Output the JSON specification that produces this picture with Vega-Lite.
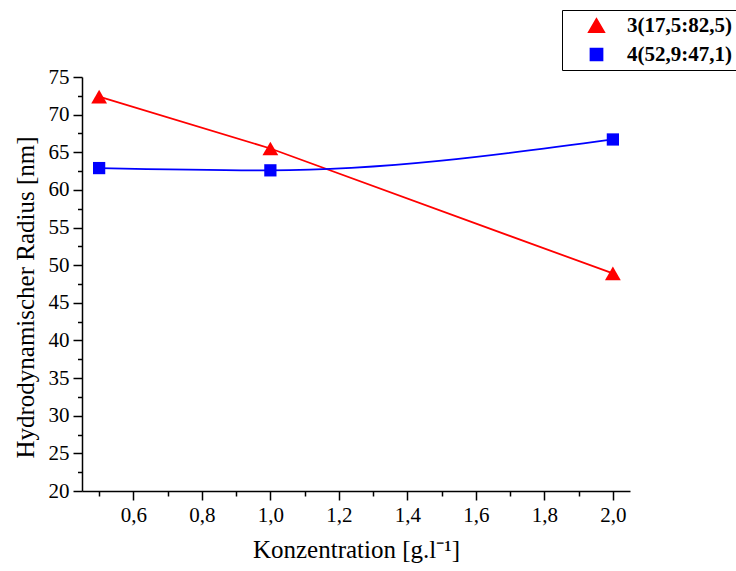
{
  "$schema": "https://vega.github.io/schema/vega-lite/v6.json",
  "width": 548,
  "height": 414,
  "autosize": {"type": "none"},
  "padding": {"left": 82, "top": 77, "right": 106, "bottom": 80},
  "background": "white",
  "config": {
    "view": {"stroke": null},
    "font": "Liberation Serif",
    "axis": {
      "labelFont": "Liberation Serif",
      "titleFont": "Liberation Serif",
      "labelFontSize": 21,
      "titleFontSize": 25,
      "labelColor": "#000000",
      "titleColor": "#000000",
      "domainColor": "#000000",
      "tickColor": "#000000",
      "domainWidth": 1.5,
      "tickWidth": 1.5,
      "grid": false,
      "titleFontWeight": "normal",
      "labelOverlap": false
    }
  },
  "data": {
    "values": [
      {"c": 0.5, "r": 72.4, "series": "3(17,5:82,5)"},
      {"c": 1.0, "r": 65.5, "series": "3(17,5:82,5)"},
      {"c": 2.0, "r": 48.9, "series": "3(17,5:82,5)"},
      {"c": 0.5, "r": 62.9, "series": "4(52,9:47,1)"},
      {"c": 1.0, "r": 62.6, "series": "4(52,9:47,1)"},
      {"c": 2.0, "r": 66.7, "series": "4(52,9:47,1)"}
    ]
  },
  "encoding": {
    "x": {
      "field": "c",
      "type": "quantitative",
      "scale": {"domain": [0.45, 2.05], "nice": false, "zero": false},
      "axis": {
        "title": "Konzentration [g.l⁻¹]",
        "values": [0.5, 0.6, 0.7, 0.8, 0.9, 1.0, 1.1, 1.2, 1.3, 1.4, 1.5, 1.6, 1.7, 1.8, 1.9, 2.0],
        "labelExpr": "round(datum.value*10) % 2 == 0 ? replace(format(datum.value, '.1f'), '.', ',') : ''",
        "tickSize": {"condition": {"test": "round(datum.value*10) % 2 == 0", "value": 9}, "value": 5},
        "labelPadding": 4,
        "titlePadding": 12
      }
    },
    "y": {
      "field": "r",
      "type": "quantitative",
      "scale": {"domain": [20, 75], "nice": false, "zero": false},
      "axis": {
        "title": "Hydrodynamischer Radius [nm]",
        "values": [20, 22.5, 25, 27.5, 30, 32.5, 35, 37.5, 40, 42.5, 45, 47.5, 50, 52.5, 55, 57.5, 60, 62.5, 65, 67.5, 70, 72.5, 75],
        "labelExpr": "datum.value % 5 == 0 ? datum.label : ''",
        "tickSize": {"condition": {"test": "datum.value % 5 == 0", "value": 9}, "value": 4.5},
        "labelPadding": 4,
        "titlePadding": 10,
        "titleY": 220
      }
    },
    "color": {
      "field": "series",
      "type": "nominal",
      "scale": {"domain": ["3(17,5:82,5)", "4(52,9:47,1)"], "range": ["#ff0000", "#0000ff"]},
      "legend": {
        "title": null,
        "orient": "none",
        "legendX": 480,
        "legendY": -67,
        "strokeColor": "#000000",
        "fillColor": "white",
        "padding": 5,
        "labelFont": "Liberation Serif",
        "labelFontSize": 21,
        "labelFontWeight": "bold",
        "labelColor": "#000000",
        "symbolSize": 120,
        "symbolOffset": 19,
        "labelOffset": 20,
        "rowPadding": 7
      }
    }
  },
  "layer": [
    {
      "transform": [{"filter": "datum.series === '3(17,5:82,5)'"}],
      "mark": {"type": "line", "interpolate": "linear", "strokeWidth": 1.8}
    },
    {
      "transform": [{"filter": "datum.series === '4(52,9:47,1)'"}],
      "mark": {"type": "line", "interpolate": "monotone", "strokeWidth": 1.8}
    },
    {
      "mark": {"type": "point", "filled": true, "opacity": 1},
      "encoding": {
        "shape": {
          "field": "series",
          "type": "nominal",
          "scale": {"domain": ["3(17,5:82,5)", "4(52,9:47,1)"], "range": ["triangle-up", "square"]},
          "legend": null
        },
        "size": {
          "field": "series",
          "type": "nominal",
          "scale": {"domain": ["3(17,5:82,5)", "4(52,9:47,1)"], "range": [250, 150]},
          "legend": null
        }
      }
    }
  ]
}
